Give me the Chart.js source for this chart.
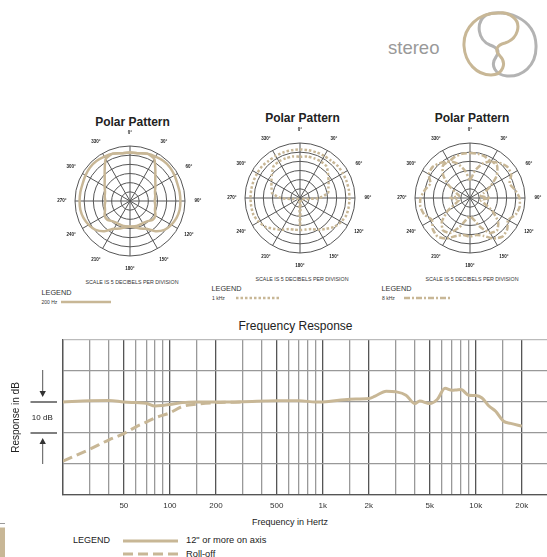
<!DOCTYPE html>
<html>
<head>
<meta charset="utf-8">
<script src="https://cdn.jsdelivr.net/npm/chart.js@4.4.0/dist/chart.umd.min.js"></script>
<style>
  html, body { margin: 0; padding: 0; background: #fff; }
  body { position: relative; width: 547px; height: 557px; overflow: hidden;
         font-family: "Liberation Sans", Arial, sans-serif; color: #222; }
  canvas { position: absolute; }
  .t { position: absolute; white-space: nowrap; line-height: 1; }
  .c { transform: translate(-50%, -50%); }
  .l { transform: translateY(-50%); }
  .ttl { font-weight: bold; font-size: 12px; color: #222; }
  .scale { font-size: 5.3px; color: #333; }
  .leg { font-size: 7.3px; color: #333; }
  .hz { font-size: 5px; color: #333; }
</style>
</head>
<body>

<!-- header / logo -->
<div class="t l" style="left:388px;top:48px;font-size:18.5px;color:#999;">stereo</div>

<!-- polar titles and notes -->
<div class="t c ttl" style="left:132.5px;top:121.5px;">Polar Pattern</div>
<div class="t c ttl" style="left:302.5px;top:118px;">Polar Pattern</div>
<div class="t c ttl" style="left:472px;top:118px;">Polar Pattern</div>

<div class="t c scale" style="left:132px;top:283px;">SCALE IS 5 DECIBELS PER DIVISION</div>
<div class="t c scale" style="left:302px;top:279.5px;">SCALE IS 5 DECIBELS PER DIVISION</div>
<div class="t c scale" style="left:472px;top:279.5px;">SCALE IS 5 DECIBELS PER DIVISION</div>

<div class="t l leg" style="left:41.5px;top:292.5px;">LEGEND</div>
<div class="t l leg" style="left:211.5px;top:289px;">LEGEND</div>
<div class="t l leg" style="left:381.5px;top:289px;">LEGEND</div>

<div class="t l hz" style="left:41.5px;top:302px;">200 Hz</div>
<div class="t l hz" style="left:212px;top:298px;">1 kHz</div>
<div class="t l hz" style="left:382px;top:298px;">8 kHz</div>

<!-- frequency response texts -->
<div class="t c" style="left:295.5px;top:326px;font-size:12px;color:#222;">Frequency Response</div>
<div class="t c" style="left:290px;top:522px;font-size:9px;color:#222;">Frequency in Hertz</div>
<div class="t l" style="left:73px;top:540px;font-size:9px;color:#222;">LEGEND</div>
<div class="t l" style="left:186px;top:541px;font-size:9.3px;color:#222;">12" or more on axis</div>
<div class="t l" style="left:186px;top:555px;font-size:9.3px;color:#222;">Roll-off</div>

<canvas id="polar1" width="150" height="150" style="left:55px;top:126px;"></canvas>
<canvas id="polar2" width="150" height="150" style="left:225px;top:123px;"></canvas>
<canvas id="polar3" width="150" height="150" style="left:395px;top:123px;"></canvas>
<canvas id="freqChart" width="560" height="247" style="left:0;top:310px;"></canvas>

<svg width="547" height="557" style="position:absolute;left:0;top:0;pointer-events:none;">
  <!-- logo -->
  <path d="M 486 15 C 505 8, 535 18, 536 45 C 537 67, 521 77, 507 76 C 495 75, 490 65, 496 57 C 500 51, 498 48, 490 45 C 478 40, 475 23, 486 15"
        fill="none" stroke="#b3b3b3" stroke-width="3"/>
  <path d="M 500 13 C 478 12, 463 28, 464 46 C 465 63, 477 75, 491 75 C 503 75, 507 63, 500 56 C 494 50, 497 45, 505 43 C 518 39, 522 24, 513 17 C 508 13, 504 12, 500 13"
        fill="none" stroke="#c8b796" stroke-width="3"/>
  <!-- polar legend swatches -->
  <line x1="61" y1="302" x2="111" y2="302" stroke="#c8b796" stroke-width="2.5"/>
  <line x1="236" y1="298" x2="279" y2="298" stroke="#c8b796" stroke-width="2.5" stroke-dasharray="2.5 2"/>
  <line x1="404" y1="298" x2="450" y2="298" stroke="#c8b796" stroke-width="2.5" stroke-dasharray="6 2 2 2"/>
  <!-- frequency legend swatches -->
  <line x1="123" y1="541" x2="178" y2="541" stroke="#c8b796" stroke-width="3"/>
  <line x1="123" y1="554" x2="178" y2="554" stroke="#c8b796" stroke-width="3" stroke-dasharray="10 5"/>
  <!-- page corner marks -->
  <line x1="0" y1="523.5" x2="5" y2="523.5" stroke="#999" stroke-width="1"/>
  <rect x="0" y="527.5" width="5" height="30" fill="#c8b796"/>
</svg>

<script>
const tan = '#c8b796';

// ---- polar data: dB at every 10 degrees, 0 deg at top, clockwise ----
const angleLabels = ['0','10','20','30','40','50','60','70','80','90','100','110','120','130','140','150','160','170',
                     '180','190','200','210','220','230','240','250','260','270','280','290','300','310','320','330','340','350'];

// 200 Hz, two capsules
const p200Right = [-3.5,-3.5,-2.5,-2,-1.5,-1.5,-2,-2.5,-2.5,-2.5,-2.5,-3,-4,-5.5,-8.5,-12.5,-14,-15.5,
                   -16,-16,-16,-16,-15.5,-14,-14,-15.5,-16,-16.5,-16,-15.5,-14,-12,-8.5,-3.5,-2.5,-3.5];
const p200Left  = [-3.5,-3.5,-2.5,-3.5,-8.5,-12,-14,-15.5,-16,-16.5,-16,-15.5,-14,-14,-15.5,-16,-16,-16,
                   -16,-15.5,-14,-12.5,-8.5,-5.5,-4,-3,-2.5,-2.5,-2.5,-2.5,-2,-1.5,-1.5,-2,-2.5,-3.5];

// 1 kHz
const p1kOuter = [-3.5,-3.5,-3.5,-3.5,-3.5,-3,-3,-3,-3,-3,-3,-3,-4,-5.5,-8,-10,-12,-12.5,
                  -12.5,-12.5,-12,-10,-8,-5.5,-4,-3,-3,-3,-3,-3,-3,-3,-3.5,-3.5,-3.5,-3.5];
const p1kInner = [-7.5,-7,-7,-7,-7.5,-10,-12,-13.5,-14.5,-19.5,-26.5,-28.5,-29,-29,-29,-29,-29,-28,
                  -14.5,-28,-29,-29,-29,-29,-29,-28.5,-26.5,-19.5,-14.5,-13.5,-12,-10,-7.5,-7,-7,-7];

// 8 kHz
const p8kOuter = [-5.5,-5.5,-6,-7,-5,-3.5,-4,-7,-5,-3,-2.5,-3.5,-6,-3.5,-2.5,-4.5,-8,-9.5,
                  -9,-9.5,-8,-4.5,-2.5,-3.5,-6,-3.5,-2.5,-3,-5,-7,-4,-3.5,-5,-7,-6,-5.5];
const p8kInner = [-20,-15,-10,-7,-7,-11,-17,-22,-24,-19,-24,-22,-16,-10,-7,-8,-13,-18,
                  -20,-18,-13,-8,-7,-10,-16,-22,-24,-19,-24,-22,-17,-11,-7,-7,-10,-15];

const angleText = {
  id: 'angleText',
  afterDraw(chart) {
    const r = chart.scales.r;
    const ctx = chart.ctx;
    ctx.save();
    ctx.font = 'bold 4.5px "Liberation Sans", Arial';
    ctx.fillStyle = '#222';
    ctx.textAlign = 'center';
    ctx.textBaseline = 'middle';
    angleLabels.forEach((lab, i) => {
      if (i % 3) return;
      const p = r.getPointPosition(i, r.drawingArea + 13);
      ctx.fillText(lab + '\u00b0', p.x, p.y);
    });
    ctx.restore();
  }
};

function polar(id, sets, dash) {
  return new Chart(document.getElementById(id), {
    type: 'radar',
    data: {
      labels: angleLabels,
      datasets: sets.map(d => ({
        data: d,
        borderColor: tan,
        borderWidth: 2.5,
        borderDash: dash,
        pointRadius: 0,
        fill: false,
        tension: 0.2
      }))
    },
    options: {
      responsive: false,
      animation: false,
      layout: { padding: 20 },
      plugins: { legend: { display: false }, tooltip: { enabled: false } },
      scales: {
        r: {
          min: -30, max: 0,
          ticks: { stepSize: 5, display: false },
          grid: { circular: true, color: '#555', lineWidth: 1 },
          angleLines: { color: '#555', lineWidth: c => (c.index % 3 === 0 ? 1 : 0) },
          pointLabels: { display: false }
        }
      }
    },
    plugins: [angleText]
  });
}

polar('polar1', [p200Right, p200Left], []);
polar('polar2', [p1kOuter, p1kInner], [2.5, 2]);
polar('polar3', [p8kOuter, p8kInner], [6, 2, 2, 2]);

// ---- frequency response ----
const solidFreqs = [20,30,40,50,60,70,80,90,100,120,150,200,300,500,700,900,1000,1500,2000,2200,
                    2600,3000,3500,4000,4300,5000,5600,6300,7000,7500,8000,9000,10000,11000,12200,13500,15200,16900,20000];
const solidDb = [0,0.4,0.5,0,-0.2,-0.4,-1.3,-1.1,-0.8,-0.2,0,0,0.1,0.4,0.4,0,0,0.9,1.1,1.9,
                 3.5,3.3,2.2,-0.5,0.3,-0.5,0.8,4.4,3.8,3.9,4.0,2.2,2.1,1.3,-1.3,-3,-6.2,-6.9,-7.8];
const rollFreqs = [20,30,40,50,60,70,80,100,120,150,200,300];
const rollDb = [-19.1,-15.2,-12.2,-10.2,-8.0,-6.5,-5.1,-3.5,-1.5,-0.7,-0.2,0];

const gridFreqs = [20,30,40,50,60,70,80,90,100,150,200,300,400,500,600,700,800,900,
                   1000,1500,2000,3000,4000,5000,6000,7000,8000,9000,10000,15000,20000];
const majorFreqs = [20,50,100,200,500,1000,2000,5000,10000,20000];
const tickFreqs = [50,100,200,500,1000,2000,5000,10000,20000];
const tickLabels = ['50','100','200','500','1k','2k','5k','10k','20k'];

const dbSideNotes = {
  id: 'dbSideNotes',
  afterDraw(chart) {
    const y = chart.scales.y;
    const ctx = chart.ctx;
    const y0 = y.getPixelForValue(0), y10 = y.getPixelForValue(-10);
    const yTop = y.getPixelForValue(10), yBot = y.getPixelForValue(-20);
    ctx.save();
    ctx.strokeStyle = '#555';
    ctx.fillStyle = '#333';
    ctx.lineWidth = 1.5;
    ctx.beginPath();
    ctx.moveTo(30.5, y0); ctx.lineTo(57, y0);
    ctx.moveTo(30.5, y10); ctx.lineTo(57, y10);
    ctx.stroke();
    // arrows
    ctx.lineWidth = 1;
    ctx.beginPath();
    ctx.moveTo(42.7, yTop - 1); ctx.lineTo(42.7, y0 - 10);
    ctx.moveTo(42.7, yBot); ctx.lineTo(42.7, y10 + 10);
    ctx.stroke();
    ctx.beginPath();
    ctx.moveTo(39.5, y0 - 11); ctx.lineTo(45.9, y0 - 11); ctx.lineTo(42.7, y0 - 5); ctx.closePath();
    ctx.moveTo(39.5, y10 + 11); ctx.lineTo(45.9, y10 + 11); ctx.lineTo(42.7, y10 + 5); ctx.closePath();
    ctx.fill();
    ctx.fillStyle = '#222';
    ctx.font = '8px "Liberation Sans", Arial';
    ctx.textAlign = 'center';
    ctx.textBaseline = 'middle';
    ctx.fillText('10 dB', 42.3, (y0 + y10) / 2);
    ctx.translate(16, (y0 + y10) / 2);
    ctx.rotate(-Math.PI / 2);
    ctx.font = '10px "Liberation Sans", Arial';
    ctx.fillText('Response in dB', 0, 0);
    ctx.restore();
  }
};

new Chart(document.getElementById('freqChart'), {
  type: 'line',
  data: {
    datasets: [
      {
        label: '12" or more on axis',
        data: solidFreqs.map((f, i) => ({ x: f, y: solidDb[i] })),
        borderColor: tan, borderWidth: 3, pointRadius: 0,
        cubicInterpolationMode: 'monotone', fill: false
      },
      {
        label: 'Roll-off',
        data: rollFreqs.map((f, i) => ({ x: f, y: rollDb[i] })),
        borderColor: tan, borderWidth: 3, borderDash: [10, 5], pointRadius: 0,
        cubicInterpolationMode: 'monotone', fill: false
      }
    ]
  },
  options: {
    responsive: false,
    animation: false,
    layout: { padding: { left: 63, right: 13, top: 30, bottom: 0 } },
    plugins: { legend: { display: false }, tooltip: { enabled: false } },
    scales: {
      x: {
        type: 'logarithmic',
        min: 20, max: 29250,
        afterBuildTicks: s => { s.ticks = gridFreqs.map(v => ({ value: v })); },
        afterFit: s => { s.height = 62; },
        ticks: {
          autoSkip: false, maxRotation: 0, padding: 6,
          color: '#333', font: { size: 8, family: '"Liberation Sans", Arial' },
          callback: v => { const k = tickFreqs.indexOf(v); return k < 0 ? '' : tickLabels[k]; }
        },
        grid: {
          drawTicks: false,
          lineWidth: 1.3,
          color: c => (c.tick && majorFreqs.includes(c.tick.value) ? '#555' : '#999')
        },
        border: { color: '#555', width: 1.3 }
      },
      y: {
        min: -30, max: 20,
        afterFit: s => { s.width = 0; },
        ticks: { stepSize: 10, display: false },
        grid: {
          drawTicks: false,
          lineWidth: 1.3,
          color: c => (c.tick && c.tick.value === 20 ? '#bbb' : '#999')
        },
        border: { color: '#555', width: 1.3 }
      }
    }
  },
  plugins: [dbSideNotes]
});
</script>
</body>
</html>
